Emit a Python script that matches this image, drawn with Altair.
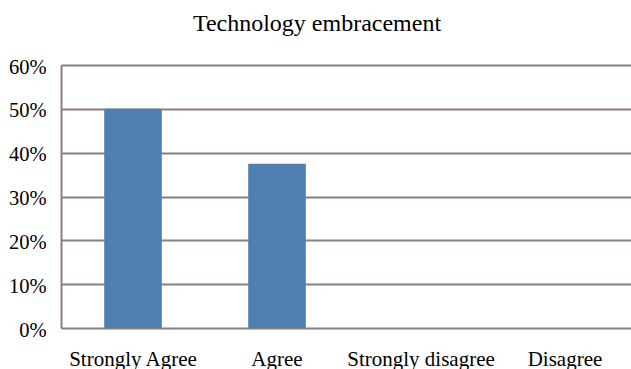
import altair as alt
import pandas as pd

# Survey responses on technology embracement (share of respondents)
categories = ["Strongly Agree", "Agree", "Strongly disagree", "Disagree"]
shares = [0.50, 0.375, 0.0, 0.0]

df = pd.DataFrame({"response": categories, "share": shares})

serif = "'Times New Roman', 'Liberation Serif', 'DejaVu Serif', serif"
grid_color = "#8c7e7e"

bars = alt.Chart(df).mark_bar(color="#4f7eb1").encode(
    x=alt.X(
        "response:N",
        sort=categories,
        scale=alt.Scale(range=[0, 576], paddingInner=0.6, paddingOuter=0.3),
        axis=alt.Axis(
            title=None,
            labelAngle=0,
            ticks=False,
            domain=False,
            labelFont=serif,
            labelFontSize=21,
            labelColor="#000000",
            labelPadding=20,
        ),
    ),
    y=alt.Y(
        "share:Q",
        scale=alt.Scale(domain=[0, 0.6], nice=False),
        axis=alt.Axis(
            title=None,
            format=".0%",
            values=[0, 0.1, 0.2, 0.3, 0.4, 0.5, 0.6],
            ticks=False,
            grid=True,
            gridColor=grid_color,
            gridWidth=2,
            gridOpacity=1,
            domainColor=grid_color,
            domainWidth=2,
            labelFont=serif,
            labelFontSize=20.5,
            labelColor="#000000",
            labelPadding=15,
            labelOffset=2,
        ),
    ),
)

chart = (
    bars.properties(
        width=570,
        height=263,
        title=alt.TitleParams(
            "Technology embracement",
            font=serif,
            fontSize=24,
            fontWeight="normal",
            color="#000000",
            anchor="middle",
            dx=-29,
            offset=21,
        ),
        padding={"left": 61, "top": 65, "right": 0, "bottom": 41},
        autosize=alt.AutoSizeParams(type="none"),
    )
    .configure_view(stroke=None)
    .configure(background="#ffffff")
)

chart.save("out.html", embed_options={"renderer": "svg", "actions": False})
